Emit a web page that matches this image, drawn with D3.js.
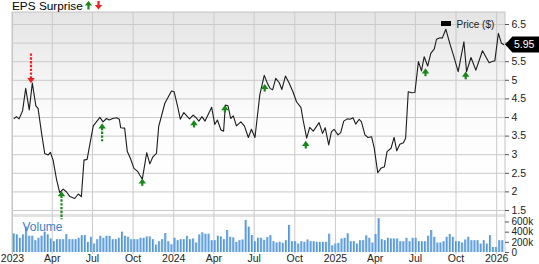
<!DOCTYPE html>
<html>
<head>
<meta charset="utf-8">
<script src="https://cdn.jsdelivr.net/npm/d3@7"></script>
<style>
  html, body { margin: 0; padding: 0; background: #fff; }
  svg { display: block; font-family: "Liberation Sans", Arial, sans-serif; }
</style>
</head>
<body>
<div id="chart"></div>
<script>
// Price ($)
const price = [
  ["2023-01-05",3.95],["2023-01-11",4.01],["2023-01-17",3.95],["2023-01-25",4.17],["2023-02-01",4.77],
  ["2023-02-09",4.19],["2023-02-16",4.91],["2023-02-24",4.30],["2023-03-01",4.23],["2023-03-09",3.56],
  ["2023-03-16",3.02],["2023-03-24",2.98],["2023-03-29",3.05],["2023-04-04",2.84],["2023-04-12",2.31],
  ["2023-04-19",1.97],["2023-04-27",2.06],["2023-05-04",1.99],["2023-05-12",1.86],["2023-05-23",1.81],
  ["2023-05-31",1.93],["2023-06-07",1.86],["2023-06-13",2.84],["2023-06-20",2.86],["2023-06-28",3.38],
  ["2023-07-04",3.76],["2023-07-11",3.87],["2023-07-19",3.99],["2023-07-26",3.87],["2023-08-03",3.96],
  ["2023-08-09",3.92],["2023-08-17",3.96],["2023-08-26",3.98],["2023-09-01",3.94],["2023-09-04",3.71],
  ["2023-09-13",3.70],["2023-09-19",3.07],["2023-09-26",2.89],["2023-10-04",2.62],["2023-10-13",2.53],
  ["2023-10-17",2.44],["2023-10-23",2.33],["2023-11-02",3.04],["2023-11-09",2.74],["2023-11-16",2.93],
  ["2023-11-24",3.02],["2023-11-29",3.74],["2023-12-13",4.37],["2023-12-28",4.70],
  ["2024-01-03",4.68],["2024-01-11",4.28],["2024-01-17",3.94],["2024-01-25",4.12],["2024-02-02",4.01],
  ["2024-02-07",3.95],["2024-02-15",4.05],["2024-02-22",3.98],["2024-02-28",3.89],["2024-03-06",4.01],
  ["2024-03-13",3.89],["2024-03-28",4.26],["2024-04-04",3.80],["2024-04-10",3.92],["2024-04-18",3.65],
  ["2024-04-24",3.62],["2024-04-28",4.32],["2024-05-04",4.30],["2024-05-10",3.96],["2024-05-16",4.03],
  ["2024-05-23",3.76],["2024-06-02",3.87],["2024-06-10",3.76],["2024-06-19",3.45],["2024-06-26",3.67],
  ["2024-07-04",3.45],["2024-07-15",4.60],["2024-07-25",5.12],["2024-08-01",4.91],["2024-08-07",4.77],
  ["2024-08-13",4.73],["2024-08-20",5.04],["2024-08-28",4.92],["2024-09-03",4.74],["2024-09-11",5.10],
  ["2024-09-19",4.92],["2024-09-28",4.68],["2024-10-06",4.41],["2024-10-16",4.26],["2024-10-21",3.92],
  ["2024-10-29",3.43],["2024-11-05",3.72],["2024-11-13",3.62],["2024-11-20",3.74],["2024-11-26",3.85],
  ["2024-12-04",3.56],["2024-12-10",3.71],["2024-12-18",3.25],["2024-12-24",3.60],["2024-12-30",3.67],
  ["2025-01-08",3.52],["2025-01-14",3.58],["2025-01-21",3.89],["2025-01-29",3.95],["2025-02-04",3.94],
  ["2025-02-11",3.98],["2025-02-17",3.81],["2025-02-25",3.94],["2025-03-02",3.87],["2025-03-10",3.52],
  ["2025-03-17",3.45],["2025-03-25",3.47],["2025-03-31",3.16],["2025-04-08",2.50],["2025-04-15",2.62],
  ["2025-04-23",2.66],["2025-04-29",3.07],["2025-05-08",3.16],["2025-05-15",3.45],["2025-05-21",3.09],
  ["2025-05-28",3.27],["2025-06-05",3.31],["2025-06-10",3.43],["2025-06-16",4.68],["2025-06-24",4.65],
  ["2025-07-01",4.66],["2025-07-09",5.49],["2025-07-16",5.24],["2025-07-22",5.62],["2025-07-30",5.37],
  ["2025-08-06",5.71],["2025-08-14",5.83],["2025-08-19",6.09],["2025-08-27",6.13],["2025-09-01",6.12],
  ["2025-09-09",6.36],["2025-09-18",5.98],["2025-09-26",5.67],["2025-10-07",5.22],["2025-10-20",6.02],
  ["2025-10-26",5.22],["2025-11-05",5.60],["2025-11-16",5.26],["2025-12-01",5.78],["2025-12-16",5.46],
  ["2025-12-23",5.49],["2025-12-29",5.51],["2026-01-06",6.25],["2026-01-13",5.98],["2026-01-19",5.94]
];

// Weekly volume (thousands), one bar per week starting 2023-01-02
const volumeStart = "2023-01-02";
const volume = [
  367,347,280,347,500,320,320,233,280,320, 400,347,267,213,253,253,253,353,253,253,
  253,280,333,333,200,300,167,253,320,280, 320,320,253,253,280,400,320,300,253,253,
  253,280,280,307,307,253,147,213,253,373, 213,153,280,233,253,253,320,253,267,187,
  347,387,360,360,233,233,320,307,253,433, 300,287,200,233,247,633,500,333,213,
  280,280,240,293,333,213,187,200,180,233, 533,213,213,167,213,200,247,213,213,200,
  200,200,200,360,133,167,180,267,280,367, 213,213,167,233,233,327,280,187,353,667,
  253,233,280,267,267,267,213,213,280,213, 280,280,213,213,213,320,433,300,187,187,
  213,300,353,300,213,213,187,247,300,233, 233,233,167,233,167,333,100,100,233,233
];

// EPS surprises: report date, price at the arrow tip, surprise (%)
const epsDates = ["2023-02-13","2023-04-23","2023-07-24","2023-10-23","2024-02-17",
                  "2024-04-27","2024-07-26","2024-10-27","2025-07-25","2025-10-24"];
const epsPrice = [4.91, 2.01, 3.83, 2.35, 3.92, 4.32, 4.89, 3.36, 5.31, 5.22];
const epsSurprise = [-100, 92, 48, 2, 2, 2, 3, 3, 4, 3];

const priceTicks = [1.5, 2, 2.5, 3, 3.5, 4, 4.5, 5, 5.5, 6, 6.5];
const volumeTicks = [0, 200, 400, 600];
const lastPrice = 5.95;

/* ---------------- layout ---------------- */
const width = 539, height = 264;
const plotLeft = 12, plotRight = 505;
const priceTop = 12, priceBottom = 214;
const volTop = 217, volBottom = 252;

const parse = d3.timeParse("%Y-%m-%d");

const svg = d3.select("#chart")
  .append("svg")
  .attr("width", width)
  .attr("height", height);

const defs = svg.append("defs");
const bg = defs.append("linearGradient").attr("id", "bgGrad")
  .attr("x1", 0).attr("y1", 0).attr("x2", 0).attr("y2", 1);
bg.append("stop").attr("offset", "0%").attr("stop-color", "#e4e4e4");
bg.append("stop").attr("offset", "50%").attr("stop-color", "#fcfcfc");
bg.append("stop").attr("offset", "100%").attr("stop-color", "#ffffff");

const barGrad = defs.append("linearGradient").attr("id", "barGrad")
  .attr("x1", 0).attr("y1", 0).attr("x2", 1).attr("y2", 0);
barGrad.append("stop").attr("offset", "0%").attr("stop-color", "#3f87d2");
barGrad.append("stop").attr("offset", "55%").attr("stop-color", "#6ea8e2");
barGrad.append("stop").attr("offset", "100%").attr("stop-color", "#b9d7f3");

/* ---------------- scales ---------------- */
const x = d3.scaleTime()
  .domain([parse("2023-01-01"), parse("2026-01-21")])
  .range([plotLeft, plotRight]);

const y = d3.scaleLinear()
  .domain([1.5, 6.5])
  .range([210, 24]);

const yVol = d3.scaleLinear()
  .domain([0, 600])
  .range([volBottom, 221.5]);

const arrowLen = d3.scaleLinear().domain([0, 100]).range([7, 30]);

/* ---------------- backgrounds ---------------- */
svg.append("rect")
  .attr("x", plotLeft).attr("y", priceTop)
  .attr("width", plotRight - plotLeft).attr("height", priceBottom - priceTop)
  .attr("fill", "url(#bgGrad)");

svg.append("rect")
  .attr("x", plotLeft).attr("y", priceBottom)
  .attr("width", plotRight - plotLeft).attr("height", volTop - priceBottom)
  .attr("fill", "#e3e3e3");

/* ---------------- grid ---------------- */
const quarters = d3.timeMonth.every(3).range(parse("2023-01-01"), parse("2026-01-02"));

// vertical grid + labels
const xAxis = svg.append("g")
  .attr("transform", "translate(0," + volBottom + ")")
  .call(d3.axisBottom(x)
    .tickValues(quarters)
    .tickSize(-(volBottom - priceTop))
    .tickPadding(3)
    .tickFormat(d => d.getMonth() === 0 ? d3.timeFormat("%Y")(d) : d3.timeFormat("%b")(d)));
xAxis.select(".domain").remove();
xAxis.selectAll(".tick line").attr("stroke", "#cacaca").attr("y2", -(volBottom - priceTop)).attr("y1", 2);
xAxis.selectAll(".tick text")
  .attr("fill", "#222")
  .style("font-size", "10.5px")
  .style("font-family", "'Liberation Sans', Arial, sans-serif");

// horizontal price grid
const yGrid = svg.append("g")
  .attr("transform", "translate(" + plotRight + ",0)")
  .call(d3.axisLeft(y).tickValues(priceTicks).tickSize(plotRight - plotLeft).tickFormat(""));
yGrid.select(".domain").remove();
yGrid.selectAll(".tick line").attr("stroke", "#cacaca");

// border
svg.append("path")
  .attr("d", `M${plotLeft},${volBottom}V${priceTop}H${plotRight}V${volBottom}`)
  .attr("fill", "none")
  .attr("stroke", "#c4c4c4");

/* ---------------- volume bars ---------------- */
const volStart = parse(volumeStart);
svg.append("g")
  .selectAll("rect")
  .data(volume)
  .join("rect")
  .attr("x", (d, i) => x(d3.timeWeek.offset(volStart, i)) + 0.35)
  .attr("width", (d, i) => x(d3.timeWeek.offset(volStart, i + 1)) - x(d3.timeWeek.offset(volStart, i)) - 0.75)
  .attr("y", d => yVol(d))
  .attr("height", d => yVol(0) - yVol(d))
  .attr("fill", "url(#barGrad)");

svg.append("text")
  .attr("x", 22.5)
  .attr("y", 231)
  .attr("fill", "#3b80c8")
  .style("font-size", "12px")
  .text("Volume");

/* ---------------- price line ---------------- */
const line = d3.line()
  .x(d => x(parse(d[0])))
  .y(d => y(d[1]));

svg.append("path")
  .datum(price)
  .attr("d", line)
  .attr("fill", "none")
  .attr("stroke", "#1c1c1c")
  .attr("stroke-width", 1.1)
  .attr("stroke-linejoin", "round");

/* ---------------- EPS arrows ---------------- */
const eps = epsDates.map((d, i) => ({ date: parse(d), price: epsPrice[i], surprise: epsSurprise[i] }));

const arrows = svg.append("g")
  .selectAll("g")
  .data(eps)
  .join("g")
  .attr("transform", d => "translate(" + x(d.date) + "," + y(d.price) + ")");

arrows.append("line")
  .attr("x1", 0).attr("x2", 0)
  .attr("y1", d => d.surprise >= 0 ? 4.5 : -4.5)
  .attr("y2", d => d.surprise >= 0 ? arrowLen(Math.abs(d.surprise)) : -arrowLen(Math.abs(d.surprise)))
  .attr("stroke", d => d.surprise >= 0 ? "#16891a" : "#f31f1f")
  .attr("stroke-width", 2.2)
  .attr("stroke-dasharray", d => Math.abs(d.surprise) > 10 ? "2.4,1.4" : null);

arrows.append("path")
  .attr("d", d => d.surprise >= 0 ? "M0,0L-3.7,5.2L3.7,5.2Z" : "M0,0L-3.7,-5.2L3.7,-5.2Z")
  .attr("fill", d => d.surprise >= 0 ? "#16891a" : "#f31f1f");

/* ---------------- right axes ---------------- */
// the "6" label sits under the last-price tag, so it is left blank
const yAxis = svg.append("g")
  .attr("transform", "translate(" + plotRight + ",0)")
  .call(d3.axisRight(y).tickValues(priceTicks).tickSize(4).tickPadding(2.5)
    .tickFormat(d => Math.abs(d - lastPrice) < 0.2 ? "" : d3.format("~g")(d)));
yAxis.select(".domain").remove();
yAxis.selectAll(".tick line").attr("stroke", "#555");
yAxis.selectAll(".tick text")
  .attr("fill", "#222")
  .style("font-size", "10.5px")
  .style("font-family", "'Liberation Sans', Arial, sans-serif");

const volAxis = svg.append("g")
  .attr("transform", "translate(" + plotRight + ",0)")
  .call(d3.axisRight(yVol).tickValues(volumeTicks).tickSize(4).tickPadding(2.5)
    .tickFormat(d => d === 0 ? "0" : d + "k"));
volAxis.select(".domain").remove();
volAxis.selectAll(".tick line").attr("stroke", "#555");
volAxis.selectAll(".tick text")
  .attr("fill", "#222")
  .style("font-size", "10px")
  .style("font-family", "'Liberation Sans', Arial, sans-serif");

/* ---------------- last price tag ---------------- */
const tagY = y(lastPrice);
svg.append("path")
  .attr("d", `M${plotRight},${tagY}L${plotRight + 7.5},${tagY - 8}H${width}V${tagY + 8}H${plotRight + 7.5}Z`)
  .attr("fill", "#000");
svg.append("text")
  .attr("x", plotRight + 9)
  .attr("y", tagY + 3.9)
  .attr("fill", "#fff")
  .style("font-size", "10.5px")
  .text(d3.format(".2f")(lastPrice));

/* ---------------- legend + title ---------------- */
svg.append("rect")
  .attr("x", 441).attr("y", 21)
  .attr("width", 10).attr("height", 5)
  .attr("fill", "#000");
svg.append("text")
  .attr("x", 456.5).attr("y", 27.5)
  .attr("fill", "#222")
  .style("font-size", "10px")
  .text("Price ($)");

svg.append("text")
  .attr("x", 12).attr("y", 9.5)
  .attr("fill", "#000")
  .style("font-size", "11.8px")
  .text("EPS Surprise");

// little legend arrows next to the title
svg.append("path")
  .attr("d", "M88.5,1L84.8,5.5H87.4V9.5H89.6V5.5H92.2Z")
  .attr("fill", "#16891a");
svg.append("path")
  .attr("d", "M98.5,9.5L94.8,5H97.4V1H99.6V5H102.2Z")
  .attr("fill", "#f31f1f");
</script>
</body>
</html>
